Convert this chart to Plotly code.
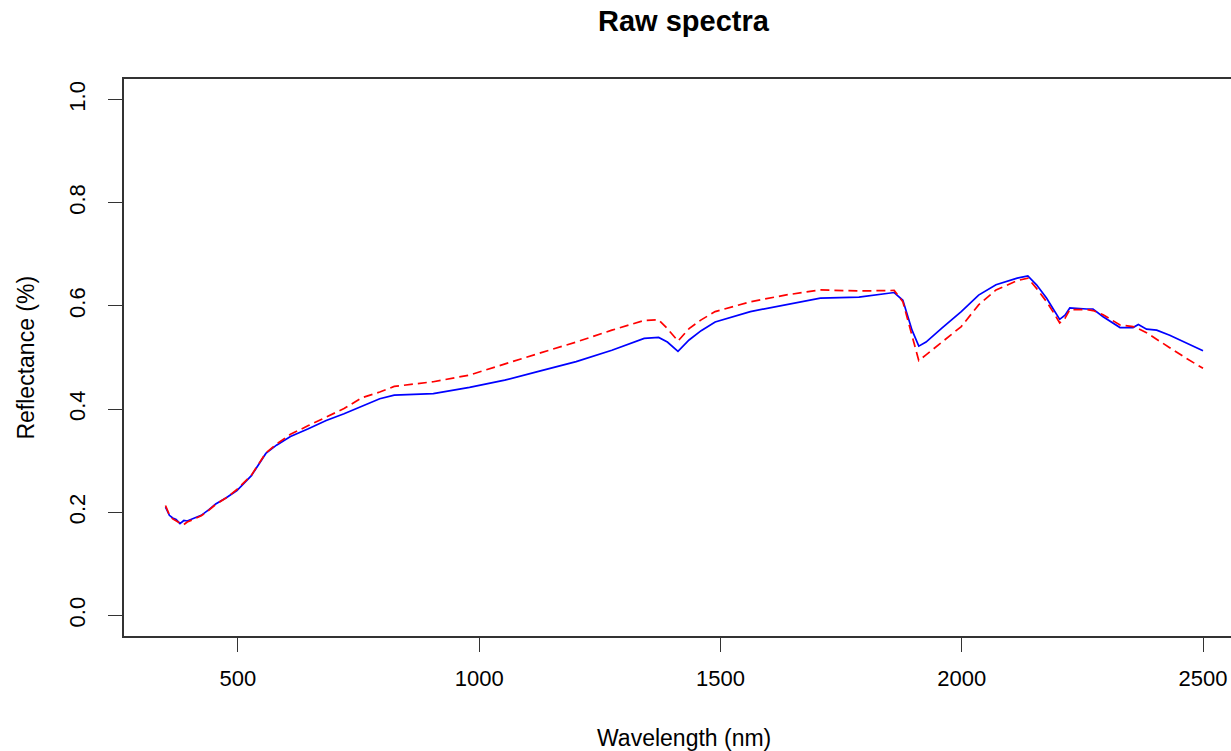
import plotly.graph_objects as go

wavelength = [350, 358, 365, 372, 380, 388, 395, 410, 424, 440, 454, 476, 498, 528, 558, 580,
              609, 646, 683, 720, 757, 794, 824, 860, 905, 980, 1053, 1127, 1201, 1275, 1342,
              1372, 1390, 1412, 1435, 1460, 1489, 1562, 1634, 1707, 1787, 1860, 1878, 1897,
              1911, 1926, 1960, 1999, 2035, 2071, 2115, 2137, 2155, 2176, 2189, 2203, 2214,
              2224, 2259, 2272, 2293, 2328, 2355, 2366, 2383, 2404, 2431, 2466, 2500]

blue_reflectance = [0.210, 0.194, 0.189, 0.186, 0.178, 0.184, 0.183, 0.188, 0.194, 0.205, 0.216,
                    0.228, 0.242, 0.271, 0.314, 0.330, 0.347, 0.362, 0.378, 0.391, 0.405, 0.420,
                    0.427, 0.428, 0.430, 0.442, 0.456, 0.474, 0.492, 0.514, 0.537, 0.539, 0.530,
                    0.512, 0.534, 0.552, 0.569, 0.589, 0.602, 0.615, 0.617, 0.626, 0.611, 0.553,
                    0.522, 0.530, 0.558, 0.589, 0.621, 0.641, 0.654, 0.658, 0.641, 0.615, 0.595,
                    0.574, 0.582, 0.596, 0.594, 0.594, 0.579, 0.558, 0.558, 0.564, 0.555, 0.553,
                    0.543, 0.527, 0.513]

red_reflectance = [0.213, 0.195, 0.187, 0.183, 0.179, 0.176, 0.181, 0.187, 0.193, 0.204, 0.215,
                   0.228, 0.244, 0.272, 0.315, 0.332, 0.351, 0.368, 0.384, 0.401, 0.422, 0.433,
                   0.444, 0.448, 0.453, 0.466, 0.488, 0.509, 0.530, 0.553, 0.572, 0.573, 0.556,
                   0.532, 0.556, 0.573, 0.589, 0.608, 0.621, 0.631, 0.629, 0.630, 0.608, 0.540,
                   0.494, 0.505, 0.530, 0.560, 0.602, 0.631, 0.649, 0.654, 0.634, 0.608, 0.589,
                   0.567, 0.576, 0.593, 0.593, 0.591, 0.583, 0.563, 0.560, 0.556, 0.548, 0.536,
                   0.519, 0.498, 0.479]

x_ticks = [500, 1000, 1500, 2000, 2500]
y_ticks = [0.0, 0.2, 0.4, 0.6, 0.8, 1.0]
y_tick_labels = ["0.0", "0.2", "0.4", "0.6", "0.8", "1.0"]

FONT = "Liberation Sans, Arial, sans-serif"

fig = go.Figure()
fig.add_trace(go.Scatter(x=wavelength, y=blue_reflectance, mode="lines",
                         line=dict(color="#0000FF", width=1.7), showlegend=False))
fig.add_trace(go.Scatter(x=wavelength, y=red_reflectance, mode="lines",
                         line=dict(color="#FF0000", width=1.7, dash="9px,5px"), showlegend=False))

fig.update_layout(
    width=1231, height=751,
    margin=dict(l=124, r=0, t=79, b=115),
    paper_bgcolor="white", plot_bgcolor="white",
    font=dict(family=FONT, color="black", size=23),
    xaxis=dict(range=[264, 2558], tickvals=x_ticks, ticktext=[str(v) for v in x_ticks],
               showgrid=False, zeroline=False, showline=True, mirror=True,
               linecolor="#333333", linewidth=1.5, ticks="outside", ticklen=14,
               tickcolor="#333333", tickwidth=1.3, tickfont=dict(size=22),
               ticklabelstandoff=8),
    yaxis=dict(range=[-0.04, 1.04], tickvals=y_ticks, ticktext=y_tick_labels,
               showgrid=False, zeroline=False, showline=True, mirror=False,
               linecolor="#333333", linewidth=1.5, ticks="outside", ticklen=14,
               tickcolor="#333333", tickwidth=1.3, tickfont=dict(size=22),
               tickangle=-90, ticklabelstandoff=14),
    annotations=[
        dict(text="<b>Raw spectra</b>", xref="paper", yref="paper",
             x=0.5059, y=1.104, xanchor="center", yanchor="middle", showarrow=False,
             font=dict(size=29, family=FONT, color="black")),
        dict(text="Wavelength (nm)", xref="paper", yref="paper",
             x=0.5059, y=-0.183, xanchor="center", yanchor="middle", showarrow=False,
             font=dict(size=23, family=FONT, color="black")),
        dict(text="Reflectance (%)", xref="paper", yref="paper",
             x=-0.0894, y=0.5, xanchor="center", yanchor="middle", showarrow=False,
             textangle=-90, font=dict(size=23, family=FONT, color="black")),
    ],
)

fig.write_html(
    "out.html",
    config={"displayModeBar": False},
    post_script="document.body.style.margin='0';document.body.style.overflow='hidden';",
)
